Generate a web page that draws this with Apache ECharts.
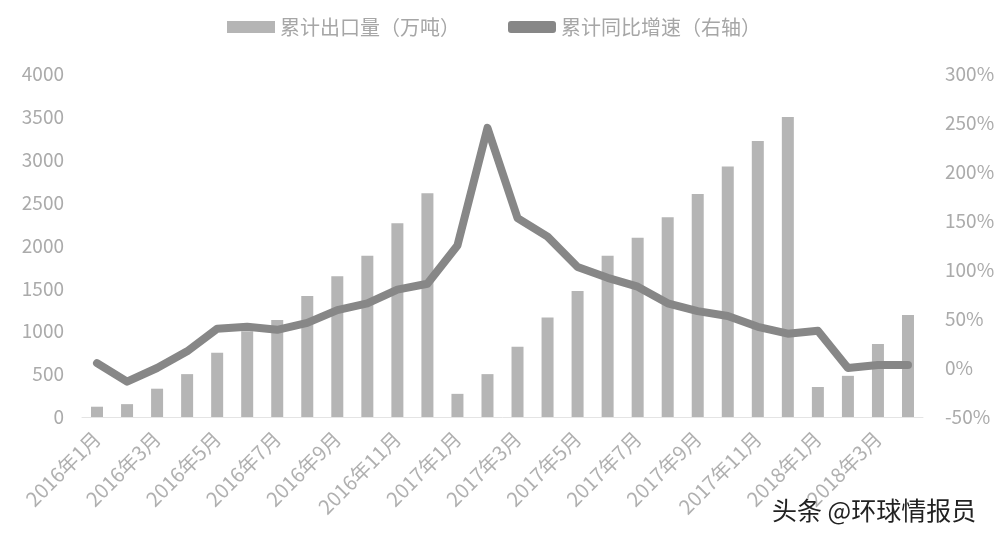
<!DOCTYPE html>
<html><head><meta charset="utf-8">
<script src="https://cdn.jsdelivr.net/npm/echarts@6/dist/echarts.min.js"></script>
<style>html,body{margin:0;padding:0;background:#fff}#c{width:1000px;height:544px}</style>
</head><body><div id="c"></div>
<script>
const categories = ['2016年1月','2016年2月','2016年3月','2016年4月','2016年5月','2016年6月','2016年7月','2016年8月','2016年9月','2016年10月','2016年11月','2016年12月',
'2017年1月','2017年2月','2017年3月','2017年4月','2017年5月','2017年6月','2017年7月','2017年8月','2017年9月','2017年10月','2017年11月','2017年12月',
'2018年1月','2018年2月','2018年3月','2018年4月'];
const exportVolume = [120,150,330,500,750,1000,1130,1410,1640,1880,2260,2610,
270,500,820,1160,1470,1880,2090,2330,2600,2920,3220,3500,
350,480,850,1190];
const growthRate = [5,-14,0,17,40,42,39,46,59,66,80,86,
125,245,153,134,103,92,83,66,58,53,42,35,
38,0,3,3];
const seriesNames = ['累计出口量（万吨）','累计同比增速（右轴）'];
const leftTicks = {min:0,max:4000,interval:500};
const rightTicks = {min:-50,max:300,interval:50};

const font = '"Noto Sans CJK SC", "Noto Sans", sans-serif';
const chart = echarts.init(document.getElementById('c'));
chart.setOption({
  animation:false,
  backgroundColor:'#fff',
  textStyle:{fontFamily:font},
  legend:{
    top:12, left:222, itemGap:48, itemWidth:48, itemHeight:12,
    textStyle:{color:'#a6a6a6', fontSize:20, fontFamily:font},
    data:[{name:seriesNames[0], icon:'rect'},{name:seriesNames[1], icon:'roundRect'}]
  },
  grid:{left:82,right:77,top:74,bottom:127},
  xAxis:{
    type:'category', data:categories,
    axisLine:{lineStyle:{color:'#e4e4e4',width:1}},
    axisTick:{show:false},
    axisLabel:{interval:1, rotate:45, color:'#b0b0b0', fontSize:20, margin:18, fontFamily:font}
  },
  yAxis:[
    {type:'value', min:leftTicks.min, max:leftTicks.max, interval:leftTicks.interval,
     splitLine:{show:false}, axisLine:{show:false}, axisTick:{show:false},
     axisLabel:{color:'#ababab', fontSize:19, margin:18, fontFamily:font, formatter:function(v){return String(v);}}},
    {type:'value', min:rightTicks.min, max:rightTicks.max, interval:rightTicks.interval,
     splitLine:{show:false}, axisLine:{show:false}, axisTick:{show:false},
     axisLabel:{color:'#ababab', fontSize:19, margin:22, formatter:'{value}%', fontFamily:font}}
  ],
  series:[
    {name:seriesNames[0], type:'bar', data:exportVolume, barWidth:12,
     itemStyle:{color:'#b5b5b5'}},
    {name:seriesNames[1], type:'line', yAxisIndex:1, data:growthRate,
     symbol:'none', lineStyle:{color:'#878787', width:8, join:'round', cap:'round'},
     itemStyle:{color:'#878787'}}
  ],
  graphic:[{type:'text', left:772, top:498,
    style:{text:'头条 @环球情报员', fill:'#222', fontSize:25, fontFamily:font}}]
});
</script></body></html>
